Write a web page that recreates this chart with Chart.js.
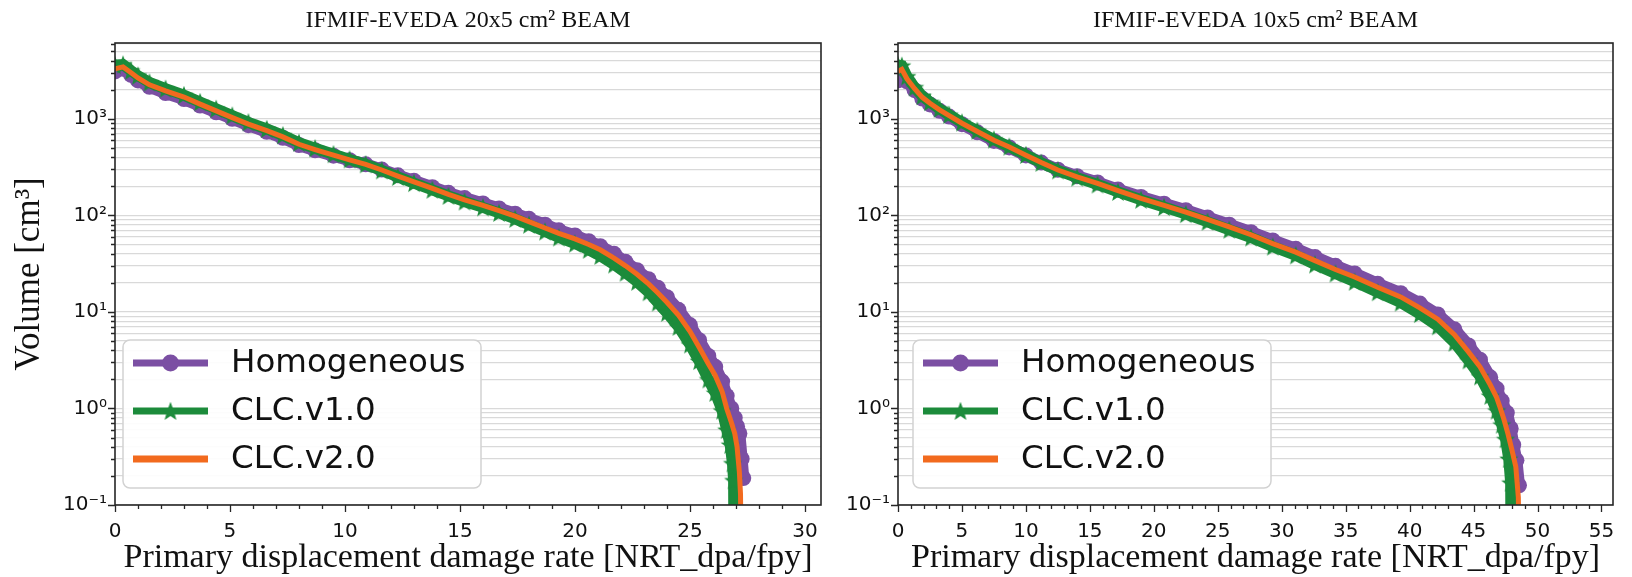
<!DOCTYPE html>
<html>
<head>
<meta charset="utf-8">
<script src="https://cdn.jsdelivr.net/npm/chart.js@4.4.0/dist/chart.umd.min.js"></script>
<style>
  html, body { margin: 0; padding: 0; background: #fff; }
  body { width: 1632px; height: 577px; position: relative; overflow: hidden; }
  .panel { position: absolute; top: 0; height: 577px; }
  #p1 { left: 0; width: 840px; }
  #p2 { left: 840px; width: 792px; }
</style>
</head>
<body>
<div class="panel" id="p1"><canvas id="c1"></canvas></div>
<div class="panel" id="p2"><canvas id="c2"></canvas></div>
<script>
// ---- data ----
const titles = ['IFMIF-EVEDA 20x5 cm² BEAM', 'IFMIF-EVEDA 10x5 cm² BEAM'];
const seriesNames = ['Homogeneous', 'CLC.v1.0', 'CLC.v2.0'];
const xTitle = 'Primary displacement damage rate [NRT_dpa/fpy]';
const yTitle = 'Volume [cm³]';

const xTicksLeft = [0, 5, 10, 15, 20, 25, 30];
const xTicksRight = [0, 5, 10, 15, 20, 25, 30, 35, 40, 45, 50, 55];
const yTickDecades = [0.1, 1, 10, 100, 1000];
const yTickLabels = ['10⁻¹', '10⁰', '10¹', '10²', '10³'];

// 20x5 beam
const leftHomX = [0,0.35,0.7,1.0,1.5,2.2,3.0,3.7,4.4,5.1,5.8,6.6,7.3,8.0,8.7,9.5,10.2,10.9,11.6,12.3,13.0,13.8,14.5,15.2,16.0,16.7,17.4,18.0,18.7,19.3,20.0,20.6,21.1,21.7,22.2,22.7,23.2,23.6,24.0,24.5,25.0,25.4,25.8,26.1,26.4,26.6,26.8,26.95,27.05,27.15,27.25,27.32];
const leftHomY = [3100,3300,2850,2500,2150,1850,1600,1370,1170,1000,860,735,635,535,472,415,372,338,298,260,228,196,171,151,133,118,104,92,80,70,62,54,48,40,33,27,21.8,17.8,14.2,10.5,7.3,5.1,3.5,2.7,1.9,1.35,1.0,0.8,0.65,0.55,0.3,0.19];
const leftV1X = [0,0.35,0.7,1.0,1.5,2.2,3.0,3.7,4.4,5.1,5.8,6.6,7.3,8.0,8.7,9.5,10.2,10.9,11.6,12.3,13.0,13.8,14.5,15.2,16.0,16.7,17.4,18.0,18.7,19.3,20.0,20.6,21.1,21.7,22.2,22.7,23.2,23.6,24.0,24.5,25.0,25.4,25.8,26.1,26.4,26.6,26.75,26.85,26.9,26.92];
const leftV1Y = [3600,3650,3150,2800,2380,2050,1760,1490,1270,1080,920,785,675,565,495,430,380,338,292,250,216,184,159,139,121,106,92,80,68,59,51,44,38,31,25.5,20.5,16,12.5,9.8,7,4.6,3.1,2.0,1.45,0.95,0.6,0.42,0.27,0.18,0.01];
const leftV2X = [0,0.35,0.7,1.0,1.5,2.2,3.0,3.7,4.4,5.1,5.8,6.6,7.3,8.0,8.7,9.5,10.2,10.9,11.6,12.3,13.0,13.8,14.5,15.2,16.0,16.7,17.4,18.0,18.7,19.3,20.0,20.6,21.1,21.7,22.2,22.7,23.2,23.6,24.0,24.5,25.0,25.4,25.8,26.1,26.4,26.6,26.8,26.95,27.05,27.15,27.2,27.25];
const leftV2Y = [3300,3450,3000,2650,2250,1950,1680,1420,1210,1030,880,755,650,545,480,420,375,338,295,255,222,190,165,145,127,112,98,86,74,65,57,50,44,36,30,24.5,19.5,15.8,12.6,9.3,6.3,4.3,2.9,2.2,1.5,1.0,0.72,0.55,0.4,0.22,0.13,0.01];

// 10x5 beam
const rightHomX = [0,0.3,0.7,1.3,1.9,2.5,3.25,4.0,5.0,6.2,7.5,8.7,10.0,11.2,12.5,14.0,15.6,17.2,19.0,20.8,22.5,24.2,25.9,27.6,29.3,31.1,32.6,34.2,35.7,37.5,39.3,40.8,42.2,43.5,44.6,45.5,46.3,46.8,47.2,47.6,47.9,48.1,48.35,48.55];
const rightHomY = [2500,3000,2450,1980,1620,1410,1210,1055,880,725,590,505,418,352,297,254,219,185,155,132,113,95,80,67,55,45,37,30,25,19.6,15.6,12.2,9.4,6.6,4.5,3.2,2.1,1.6,1.2,0.9,0.62,0.42,0.29,0.16];
const rightV1X = [0,0.3,0.7,1.3,1.9,2.5,3.25,4.0,5.0,6.2,7.5,8.7,10.0,11.2,12.5,14.0,15.6,17.2,19.0,20.8,22.5,24.2,25.9,27.6,29.3,31.1,32.6,34.2,35.7,37.5,39.3,40.8,42.2,43.5,44.6,45.5,46.3,46.8,47.2,47.5,47.75,47.9,47.95];
const rightV1Y = [3600,3550,2750,2120,1720,1490,1270,1100,915,752,610,515,422,350,292,246,209,175,145,122,103,86,71,59,47.5,38.5,31,25,20.5,16,12.5,9.5,7.1,4.8,3.15,2.15,1.35,0.95,0.68,0.48,0.3,0.17,0.01];
const rightV2X = [0,0.3,0.7,1.3,1.9,2.5,3.25,4.0,5.0,6.2,7.5,8.7,10.0,11.2,12.5,14.0,15.6,17.2,19.0,20.8,22.5,24.2,25.9,27.6,29.3,31.1,32.6,34.2,35.7,37.5,39.3,40.8,42.2,43.5,44.6,45.5,46.3,46.8,47.1,47.4,47.7,48.0,48.3,48.5,48.6];
const rightV2Y = [3100,3250,2600,2050,1670,1450,1240,1080,900,740,600,510,420,352,295,250,214,180,150,127,108,91,76,63,51,41.6,34,27.5,23,18,14.3,11,8.4,5.8,3.85,2.7,1.76,1.3,1.0,0.75,0.54,0.37,0.25,0.12,0.01];

// ---- styling ----
const PURPLE = '#7b4fa3';
const GREEN = '#1c8b3b';
const ORANGE = '#f26a1e';
const GRID = '#d9d9d9';
const AXIS = '#262626';
const SANS = 'DejaVu Sans';
const SERIF = 'Liberation Serif';

const pts = (xs, ys) => xs.map((x, i) => ({x: x, y: ys[i]}));

function makeStar(color, r) {
    const c = document.createElement('canvas');
    const s = Math.ceil(r * 2 + 2);
    c.width = s; c.height = s;
    const g = c.getContext('2d');
    g.translate(s / 2, s / 2 + r * 0.08);
    g.beginPath();
    for (let i = 0; i < 10; i++) {
        const rr = i % 2 === 0 ? r : r * 0.42;
        const a = -Math.PI / 2 + i * Math.PI / 5;
        g.lineTo(rr * Math.cos(a), rr * Math.sin(a));
    }
    g.closePath();
    g.fillStyle = color;
    g.fill();
    return c;
}
const starImg = makeStar(GREEN, 10);

function supLabel(v) {
    const i = yTickDecades.findIndex(d => Math.abs(d - v) / d < 1e-6);
    return i >= 0 ? yTickLabels[i] : '';
}

// all log grid positions: 1..9 x 10^k
function logGridValues(max) {
    const out = [];
    yTickDecades.forEach(d => {
        for (let m = 1; m <= 9; m++) {
            const v = +(m * d).toPrecision(6);
            if (v <= max) out.push(v);
        }
    });
    return out;
}

const panelDecor = {
    id: 'panelDecor',
    afterDraw(chart, args, opts) {
        const {ctx, chartArea: a} = chart;
        const x = chart.scales.x, y = chart.scales.y;
        ctx.save();
        // tick marks
        ctx.strokeStyle = AXIS;
        ctx.lineWidth = 1.3;
        ctx.beginPath();
        for (let v = 0; v <= x.max + 1e-9; v += 1) {
            const px = Math.round(x.getPixelForValue(v)) + 0.5;
            const len = v % 5 === 0 ? 7 : 4;
            ctx.moveTo(px, a.bottom);
            ctx.lineTo(px, a.bottom + len);
        }
        logGridValues(y.max).forEach(v => {
            const py = Math.round(y.getPixelForValue(v)) + 0.5;
            const len = supLabel(v) ? 7 : 4;
            ctx.moveTo(a.left, py);
            ctx.lineTo(a.left - len, py);
        });
        ctx.stroke();
        // frame
        ctx.lineWidth = 1.6;
        ctx.strokeRect(a.left, a.top, a.right - a.left, a.bottom - a.top);

        // legend
        const bx = a.left + opts.dx, by = opts.top, bw = opts.w, bh = opts.h;
        ctx.beginPath();
        ctx.roundRect(bx, by, bw, bh, 7);
        ctx.fillStyle = 'rgba(255,255,255,0.9)';
        ctx.fill();
        ctx.strokeStyle = '#d2d2d2';
        ctx.lineWidth = 1.5;
        ctx.stroke();
        const rows = [by + 23, by + 71, by + 119];
        const cols = [PURPLE, GREEN, ORANGE];
        const x0 = bx + 10, x1 = bx + 85, xm = (x0 + x1) / 2;
        rows.forEach((ry, i) => {
            ctx.strokeStyle = cols[i];
            ctx.lineWidth = 7;
            ctx.lineCap = 'butt';
            ctx.beginPath();
            ctx.moveTo(x0, ry);
            ctx.lineTo(x1, ry);
            ctx.stroke();
            if (i === 0) {
                ctx.fillStyle = PURPLE;
                ctx.beginPath();
                ctx.arc(xm, ry, 8.5, 0, Math.PI * 2);
                ctx.fill();
            } else if (i === 1) {
                ctx.drawImage(starImg, xm - starImg.width / 2, ry - starImg.height / 2);
            }
            ctx.fillStyle = '#111';
            ctx.font = '32.5px "' + SANS + '"';
            ctx.textAlign = 'left';
            ctx.textBaseline = 'middle';
            ctx.fillText(seriesNames[i], bx + 108, ry + 1);
        });

        // panel title
        ctx.fillStyle = '#111';
        ctx.font = '24px "' + SERIF + '"';
        ctx.textAlign = 'center';
        ctx.textBaseline = 'alphabetic';
        ctx.fillText(opts.title, (a.left + a.right) / 2, 27);
        ctx.restore();
    }
};

function makeChart(canvasId, cfg) {
    const ds = [
        {
            label: seriesNames[0],
            data: pts(cfg.hom[0], cfg.hom[1]),
            borderColor: PURPLE,
            backgroundColor: PURPLE,
            borderWidth: 12,
            pointRadius: 8,
            pointBorderWidth: 0,
            pointStyle: 'circle',
            order: 3
        },
        {
            label: seriesNames[1],
            data: pts(cfg.v1[0], cfg.v1[1]),
            borderColor: GREEN,
            backgroundColor: GREEN,
            borderWidth: 11,
            pointRadius: 8,
            pointStyle: starImg,
            order: 2
        },
        {
            label: seriesNames[2],
            data: pts(cfg.v2[0], cfg.v2[1]),
            borderColor: ORANGE,
            borderWidth: 5,
            pointRadius: 0,
            order: 1
        }
    ];
    return new Chart(document.getElementById(canvasId), {
        type: 'line',
        data: {datasets: ds},
        options: {
            responsive: true,
            maintainAspectRatio: false,
            animation: false,
            devicePixelRatio: 1,
            layout: {padding: {top: 43, right: cfg.padRight, bottom: 0, left: 0}},
            elements: {line: {tension: 0, fill: false}},
            datasets: {line: {clip: 0}},
            plugins: {
                legend: {display: false},
                tooltip: {enabled: false},
                panelDecor: {title: cfg.title, dx: cfg.legendDx, top: 340, w: 358, h: 148}
            },
            scales: {
                x: {
                    type: 'linear',
                    min: 0,
                    max: cfg.xMax,
                    afterBuildTicks: s => { s.ticks = cfg.xTicks.map(v => ({value: v})); },
                    afterFit: s => { s.height = 72; },
                    grid: {display: false, drawTicks: false},
                    border: {display: false},
                    ticks: {
                        autoSkip: false,
                        maxRotation: 0,
                        padding: 15,
                        color: '#111',
                        font: {family: SANS, size: 20}
                    },
                    title: {
                        display: cfg.showXTitle,
                        text: xTitle,
                        color: '#111',
                        font: {family: SERIF, size: 34, lineHeight: 1},
                        padding: {top: 0, bottom: 2}
                    }
                },
                y: {
                    type: 'logarithmic',
                    min: 0.1,
                    max: 6100,
                    afterBuildTicks: s => { s.ticks = logGridValues(s.max).map(v => ({value: v})); },
                    afterFit: s => { s.width = cfg.yWidth; },
                    grid: {color: GRID, lineWidth: 1.2, drawTicks: false},
                    border: {display: false},
                    ticks: {
                        autoSkip: false,
                        padding: 8,
                        color: '#111',
                        font: {family: SANS, size: 20},
                        callback: v => supLabel(v)
                    },
                    title: {
                        display: cfg.showYTitle,
                        text: yTitle,
                        color: '#111',
                        font: {family: SERIF, size: 35, lineHeight: 1},
                        padding: {top: 12, bottom: 0}
                    }
                }
            }
        },
        plugins: [panelDecor]
    });
}

makeChart('c1', {
    title: titles[0],
    hom: [leftHomX, leftHomY], v1: [leftV1X, leftV1Y], v2: [leftV2X, leftV2Y],
    xMax: 30.7, xTicks: xTicksLeft, yWidth: 115, padRight: 14,
    legendDx: 8, showXTitle: true, showYTitle: true
});
makeChart('c2', {
    title: titles[1],
    hom: [rightHomX, rightHomY], v1: [rightV1X, rightV1Y], v2: [rightV2X, rightV2Y],
    xMax: 55.9, xTicks: xTicksRight, yWidth: 58, padRight: 12,
    legendDx: 15, showXTitle: true, showYTitle: false
});
</script>
</body>
</html>
